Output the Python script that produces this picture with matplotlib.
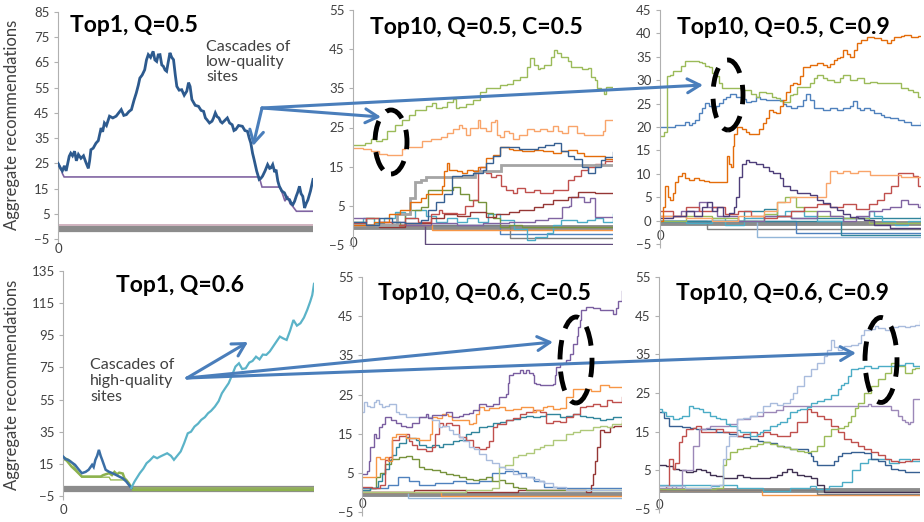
import matplotlib
matplotlib.use("Agg")
import matplotlib.pyplot as plt
from matplotlib.patches import Ellipse, FancyArrowPatch

W, H = 924, 522
plt.rcParams["font.family"] = ["Lato", "DejaVu Sans"]

# ---------------- data: (time %, aggregate recommendations) ----------------
# Top1, Q=0.5
P1_BLUE = [(0, 25), (1, 23), (1.7, 22), (2.5, 24), (3.2, 22), (4.4, 27.8), (5.0, 29), (5.7, 28), (6.5, 29.8),
           (7.2, 26), (8, 28.5), (9, 27), (10, 28), (10.9, 25.5), (11.9, 23), (12.4, 26), (12.9, 30.4),
           (13.8, 31), (14.9, 33), (15.8, 34), (16.9, 39), (17.5, 37.5), (18.2, 41), (19, 40), (20.2, 43.7),
           (21.5, 43), (22.8, 43.7), (23.8, 45), (24.8, 46.3), (25.8, 44), (26.8, 44.3), (27.8, 45.5),
           (28.8, 46.3), (29.8, 50), (30.7, 52.9), (31.5, 56), (32.1, 58.8), (33, 60), (34, 62.1), (34.7, 66),
           (35.4, 68.1), (36.3, 67), (37.3, 69.4), (38, 66), (38.7, 65.4), (39.3, 68), (40, 68.1), (40.7, 64),
           (41.3, 63.5), (42, 62), (42.6, 61.5), (43.2, 65), (43.9, 68.8), (44.6, 67), (45.3, 66.1), (46, 60),
           (46.6, 55.5), (47.5, 54), (48.5, 54.2), (49.5, 52), (50.5, 53.6), (51.2, 57), (51.8, 55.5),
           (52.5, 50.3), (53.8, 48), (55.1, 47.6), (56.1, 46), (57.1, 45.6), (57.8, 43), (58.4, 42.3),
           (59.4, 41), (60.4, 41.7), (61, 43), (61.7, 45), (62.4, 43.5), (63.1, 43), (63.8, 41.5), (64.4, 41),
           (65.4, 42), (66.4, 43), (67.3, 41), (68.3, 40.3), (69, 38), (69.7, 38.4), (70.8, 40), (72.3, 39.7),
           (73.3, 38), (74.3, 37.7), (75, 35), (75.6, 33.1), (76.3, 29), (76.9, 26.5), (77.9, 22), (78.9, 18.6),
           (79.5, 19), (80.2, 19.9), (81.2, 22), (82.2, 24.5), (83, 23), (83.5, 23.2), (84.2, 24.5), (85, 21.5),
           (85.5, 22.5), (86.2, 18), (86.8, 15.9), (87.8, 14), (88.8, 13.3), (89.8, 11), (90.8, 10.6),
           (91.5, 9), (92.1, 8.6), (92.8, 10), (93.4, 11.9), (94, 13.5), (94.7, 15.9), (95.3, 13), (96, 11.9),
           (96.7, 7.3), (97.3, 9), (98, 10.5), (99, 14), (100, 18.6)]
P1_PURPLE = [(0, 25.2), (1.2, 23), (1.7, 21), (2.4, 19.6), (78.9, 19.6), (80, 15.6), (87, 15.6), (88, 13),
             (89, 10), (90, 12), (91, 9), (92, 8), (93.5, 6), (100, 6)]
P1_PINK = [(0, 0.5), (100, 0.5)]
P1_GREY = [(0, -1), (100, -1)]

# Top10, Q=0.5, C=0.5
P2_GREEN = [(0, 20.5), (4.5, 21), (7, 22), (9, 21.5), (11, 22), (13, 24), (16.2, 25.6), (18.8, 27), (21.4, 28.2),
            (24, 29.5), (26.6, 29.5), (28, 30.5), (30.5, 31.2), (32, 30), (34.4, 30.3), (36, 31.5), (38.3, 32.4),
            (39.5, 30), (40.9, 30.3), (43.5, 31), (46.1, 32), (48.7, 34), (51.3, 35), (53.9, 35.2), (56.5, 35.9),
            (59.1, 36), (61.7, 37.1), (64.3, 38), (66.9, 40.5), (68, 42.7), (69.5, 41), (71, 40), (72.1, 40.1),
            (73.5, 41), (74.7, 41), (76, 43), (77.3, 44.8), (78.5, 44), (79.9, 43.1), (82.5, 42), (84, 40.5),
            (86.4, 40.5), (88, 40), (90.3, 40.1), (91.5, 38), (92.9, 37.1), (94, 35), (95.5, 34.6), (96.5, 33.5),
            (97.4, 35.4), (100, 35.4)]
P2_ORANGE = [(0, 19.7), (4, 19.5), (7, 19), (10, 18.2), (13, 18), (16, 18), (18.8, 19.5), (20, 20.1), (26.6, 21.5),
             (30, 22), (34, 22.5), (36, 23.5), (38.3, 24.5), (40.9, 25.6), (42, 25), (43.5, 23), (45, 25),
             (48, 26.9), (49, 25), (51.3, 24), (53, 26.5), (54.5, 27), (55.5, 23), (56.5, 22.7), (58, 24),
             (60, 23.5), (61.7, 22), (64, 23), (66.9, 24.5), (69.5, 24), (72.1, 24.5), (74.7, 24), (77, 25.5),
             (79, 24), (80.5, 23.5), (82.5, 25.5), (84.5, 25.5), (86, 23.5), (89, 23), (93, 23), (96, 24),
             (97, 27), (100, 27)]
P2_BLUE = [(0, 1), (5, 0), (10, 2), (15, 1), (20, 0.5), (26, 1.5), (29, 4), (32, 6), (35, 8), (38, 12.5), (42, 13),
           (46, 13.5), (50, 14.1), (51.3, 16), (53.9, 17.6), (56.5, 20.1), (60, 20), (64, 19.5), (68, 19.5),
           (71, 20), (74, 20.5), (77.3, 21), (80, 19), (82.5, 17.6), (85, 17), (88, 15), (90.3, 13.3), (92.9, 15),
           (95.5, 16.7), (97, 17.5), (100, 18.8)]
P2_DKORANGE = [(0, 0), (8, 1), (14, 3), (18, 4), (22, 6), (26, 7), (28, 8), (32, 8), (34.4, 10), (35, 14),
               (36, 15.9), (37, 14.1), (40, 14), (42, 13.3), (44, 14.1), (46, 14), (48, 15), (51.3, 17.1), (54, 18),
               (56.5, 20.1), (60, 19.5), (61.7, 19.3), (65, 19), (69.5, 19.3), (73, 19), (77, 18.4), (80, 19),
               (82.5, 19.3), (86, 18.5), (89, 17.6), (93, 17.6), (97, 17), (100, 16.7)]
P2_GREYSTEP = [(0, 0), (15, 0), (17, 3), (22, 7), (24, 11), (26, 11.6), (28, 12.3), (45, 12.3), (47, 14), (55, 14),
               (57, 15.5), (100, 15.5)]
P2_RED = [(0, 0.5), (5, 2), (10, 1), (15, 0), (20, 2), (25, 1), (30, 3), (33, 4), (34.4, 3.1), (40, 3), (43, 5),
          (46, 6.5), (48, 14), (49, 15), (51.3, 13.3), (53, 12.4), (55, 13), (57, 10), (59, 9), (61.7, 8.2),
          (63, 9.5), (66, 8.5), (69.5, 9), (72, 8.2), (74.7, 8.2), (77, 9), (79.9, 9), (82.5, 11.6), (85, 12.5),
          (87.5, 14.1), (90.3, 14.9), (93, 15.8), (97, 16.5), (100, 16.7)]
P2_DKRED = [(0, 0), (10, -0.5), (20, 0.5), (30, 2), (35, 3), (40, 2.5), (45, 3.5), (51.3, 2.2), (55, 3), (60, 3.5),
            (64, 4), (69.5, 4.8), (73, 5.5), (77, 6.5), (79.9, 6.5), (82.5, 7.3), (85, 7.3), (86.5, 8.6), (90, 8.6),
            (93, 8.2), (100, 8.2)]
P2_PURPLE = [(0, 2), (5, 0), (10, 1), (20, 0), (30, 0.5), (40, 0), (50, 0.5), (60, 1), (70, 1.5), (75, 2),
             (80.5, 4.8), (83, 5), (84, 7.3), (87, 7.3), (89, 6), (91, 7), (93, 2.2), (100, 2.2)]
P2_GREENLOW = [(0, 1), (5, 2), (10, 0), (15, 1), (18, 0), (20, 3), (22, 4), (26, 4.8), (29, 9), (33, 9),
               (38.3, 9.9), (41, 8), (44.5, 6.5), (48, 6), (51.3, 3.1), (54, 2), (56.5, -0.3), (60, 0), (65, -0.5),
               (100, -0.5)]
P2_AQUA = [(0, 1), (4, 2), (8, 0.5), (12, 2), (16, 3.5), (20, 2), (24, 4), (28, 2.5), (32, 1), (36, 2), (40, 1),
           (44, 2), (48, 1), (52, 3), (56.5, 1.5), (59.1, 1.4), (62, -1), (66.9, -3.7), (70, -3), (74.7, -2),
           (77, 0), (79.9, 1.4), (83, 1.5), (86, 1), (90, 1.5), (93, 2), (96, 1), (100, 3)]
P2_BASE_A = [(0, 0), (27, 0), (27.5, -4.7), (100, -4.7)]
P2_BASE_B = [(0, 0), (56, 0), (56.5, -2.2), (100, -2.2)]
P2_BASE_C = [(0, 0), (60, 0), (60.5, -3.2), (100, -3.2)]
P2_BASE_D = [(0, 0), (30, 0), (30.5, -1.2), (100, -1.2)]
P2_GREY = [(0, -0.3), (100, -0.3)]

# Top10, Q=0.5, C=0.9
P3_GREEN = [(0, 18), (1.5, 19), (2.5, 31), (3.9, 31.1), (5, 32), (6.5, 32), (8, 33), (9.7, 34), (12.3, 34),
            (14.8, 33.8), (16.1, 33.6), (17.4, 33), (18.7, 32.9), (20, 31.5), (21.3, 30.8), (22.6, 29.5),
            (23.9, 28.3), (29, 28.3), (31, 28), (32.9, 27.9), (35, 27), (36.8, 26.5), (38, 27.5), (40.6, 27.2),
            (43, 26.5), (44.5, 26.1), (46, 25.5), (47.1, 25.4), (49.7, 26.8), (51, 27), (52.3, 28.6), (54.8, 28.6),
            (57.4, 29.3), (59, 30.5), (60, 31.1), (62.6, 30.5), (63.9, 30), (66.5, 29.7), (69, 30.5), (70.3, 31.1),
            (72.9, 30), (75.5, 30.5), (78.1, 29.5), (80.6, 29.7), (83.2, 29.3), (89.7, 29.3), (92.3, 28.3),
            (95, 27.9), (97, 27.5), (98.7, 26.5), (100, 26.5)]
P3_BLUE = [(0, 20.1), (3, 20.1), (5.8, 20.4), (8, 20.4), (9.7, 21.1), (11, 20.5), (12.3, 20.8), (13.5, 21.5),
           (14.8, 22.9), (16.1, 24), (17.4, 25.1), (18.7, 24.5), (20, 24), (21.3, 24.5), (22.6, 25.1), (24, 26),
           (25.2, 26.5), (27, 27), (29, 26.5), (31, 26), (32.9, 25.4), (35, 25.5), (36.8, 26.5), (38.5, 26),
           (40.6, 25.8), (45.8, 25.8), (47, 25), (48.4, 24.4), (50, 24), (52.3, 24.4), (54.8, 25.8), (56, 27),
           (57.4, 25.8), (59, 24), (60, 24), (62.6, 23.6), (65, 24), (67.7, 23.6), (70, 24), (72.9, 24.4),
           (74, 25.5), (75.5, 24), (76.8, 23.6), (78.1, 24), (80.6, 23.6), (81.9, 22.9), (84.5, 22.5),
           (85.8, 22.2), (88, 22), (91, 21.5), (93.5, 21), (96.1, 20.4), (98.7, 20.4), (100, 21.1)]
P3_ORANGE = [(0, 0), (1, 3), (1.9, 7.3), (3.2, 5), (3.9, 4.4), (5, 6), (5.8, 8.3), (7, 9.5), (8.4, 10.1), (9.5, 9),
             (11, 8.7), (13, 9), (14.8, 8.7), (17, 8.5), (18.7, 8.3), (25.2, 8.3), (25.8, 13.7), (26.5, 12),
             (27.1, 11.5), (28, 16), (28.4, 18.6), (29.5, 20), (30.3, 20.1), (31.5, 19.5), (32.9, 19), (34.2, 18.5),
             (36.8, 18.6), (38, 19.5), (39.4, 20.8), (40.6, 22), (41.9, 23.6), (43.2, 23.2), (44.5, 22.9),
             (45.8, 24.5), (47.1, 25.8), (48.4, 27.5), (49.7, 29), (51, 29.5), (52.3, 29.2), (53.5, 31),
             (54.8, 32.9), (57.4, 33.2), (60, 33.6), (62.6, 33.2), (63.9, 32.9), (65.2, 33.5), (66.5, 34.3),
             (67.7, 34.8), (69, 35), (70.3, 36.5), (71.6, 35.5), (72.9, 35), (74.2, 36.5), (75.5, 37.9), (77, 38.5),
             (79.4, 39.3), (81.9, 39), (84.5, 38.6), (87.1, 37.9), (88.4, 38.5), (89.7, 39.3), (92.3, 39.5),
             (93.5, 39.7), (96.1, 39.3), (98.7, 39.5), (100, 39.5)]
P3_DKPURPLE = [(0, 0.5), (5, 1), (10, 2), (13, 1), (16, 3), (18, 4), (20, 2), (22, 3), (24, 1), (26.5, 1.6),
               (28.4, 3), (29, 5.1), (30.3, 9.4), (31.6, 12.2), (32.9, 12.9), (34.2, 12.5), (36.8, 12), (39.4, 11.5),
               (41.9, 10.5), (43.2, 10.1), (45.8, 9), (47.1, 7.3), (49.7, 6.5), (52.3, 5.8), (54.8, 5.8),
               (57.4, 5.5), (60, 4.5), (62.6, 3.7), (65, 3), (67.7, 2.3), (70, 1.5), (72.9, 0.8), (76, 0.5),
               (78.1, 0.1), (82, -1), (88, -1.5), (100, -1.5)]
P3_LTORANGE = [(0, 1), (10, 0.5), (20, 0), (30, 1), (40, 2), (45, 4), (49.7, 5.1), (55, 5), (62.6, 5.1),
               (63.5, 8), (65.2, 10.5), (67.7, 10.1), (70, 10.5), (72.9, 10.1), (76, 10.5), (80.6, 9.7),
               (88.4, 9.7), (92.3, 9.4), (100, 9.4)]
P3_RED = [(0, 2), (5, 1), (10, 3), (15, 2), (20, 3), (25, 1.5), (30, 2), (35, 1), (40, 0.5), (45, 1), (50, 2),
          (55, 3), (60, 3.5), (65, 3), (70, 3.5), (75, 2.5), (80, 3.5), (83.2, 4.4), (85.8, 5.8), (88.4, 7.3),
          (91, 10.1), (94, 10.1), (97, 9.5), (98.7, 7.5), (100, 7.3)]
P3_PURPLE = [(0, 1), (8, 2), (15, 4), (18, 3), (22, 1), (30, 0), (40, 1), (50, 0.5), (60, 2), (65, 1), (70, 0),
             (75, 1), (80, 2), (85, 2.5), (88, 3), (91, 3), (92.5, 4.4), (95, 3.5), (98.7, 3), (100, 3.5)]
P3_GREENLOW = [(0, 0), (10, 1), (20, 0.5), (30, 0), (40, 1.5), (45, 4), (48, 5), (52, 3), (55, 2), (60, 1),
               (70, 0.5), (80, -0.5), (100, -0.5)]
P3_AQUA = [(0, 0), (10, -0.5), (20, 0.5), (25, -1), (32, 0.5), (40, 1), (48, 2), (55, 1), (60, 0), (70, 0.5),
           (80, 2), (82, 1), (85, 0), (90, -1), (95, 0), (100, 1)]
P3_TEAL = [(0, 0), (30, 0), (32, 2), (36, 2), (40, 2.5), (45, 1), (50, 0.5), (100, 0.5)]
P3_BASE_A = [(0, 0), (17.4, 0), (18, -1.9), (100, -1.9)]
P3_BASE_B = [(0, 0), (36.8, 0), (37.3, -3.4), (100, -3.4)]
P3_BASE_C = [(0, 0), (51.6, 0), (52, -2.7), (100, -2.7)]
P3_BASE_D = [(0, 0), (69, 0), (69.5, -3), (100, -3)]
P3_GREY = [(0, -0.5), (100, -0.5)]

# Top1, Q=0.6
P4_AQUA = [(27.2, 0), (28.5, 4), (30.6, 9.2), (32, 12), (33.3, 15.4), (34.5, 17), (36.1, 19.6), (37.5, 18.5),
           (38.8, 19.6), (40, 20.5), (41.5, 21.6), (43, 20), (44.2, 17.5), (45.5, 20), (46.9, 22.7), (48.3, 28),
           (49.7, 34), (51, 35), (52.4, 38.2), (53.8, 40), (55.1, 42.4), (56.5, 44), (57.8, 46.5), (59, 48),
           (60.5, 50.6), (62, 54), (63.3, 58.9), (64.6, 62), (66, 65.2), (67.3, 70), (68.7, 75.5), (70.1, 77.6),
           (71.4, 74), (72.8, 74.5), (74.2, 78), (75.5, 79), (76.9, 81.7), (78.3, 80), (79.6, 83), (81, 82.8),
           (82.4, 85), (83.7, 88), (85, 91), (86.4, 94.2), (87.8, 93), (89.1, 92.1), (90.5, 98), (91.8, 104.5),
           (93.2, 101), (94.6, 102.5), (96, 106), (97.3, 110.8), (98.5, 116), (99.3, 120), (100, 127)]
P4_BLUE = [(0, 19.6), (1, 18), (2, 17.5), (3.4, 16), (4.8, 14.4), (6, 12), (7.5, 9.2), (9, 10), (10.2, 11.3),
           (11.6, 14.4), (12.2, 13), (12.9, 17.5), (13.6, 20), (14.3, 23.7), (15, 20), (15.6, 17.5), (17, 11.3),
           (18.4, 10), (19.7, 9.2), (22.4, 7.1), (23.8, 6), (25.2, 4), (27.2, 0)]
P4_GREEN = [(0, 18.5), (1.5, 17), (3.4, 13.3), (5, 11), (7.5, 7.1), (15, 7.1), (16, 8), (18.4, 9.2), (19.5, 8),
            (20.5, 10), (21.5, 8.5), (22.4, 9.5), (23.8, 9), (24.5, 6), (25.2, 5), (26.2, 3), (27.9, -1.2),
            (100, -1.2)]
P4_MIN = [(0, 19.6), (3, 17), (5, 12), (7.5, 6.7), (18.4, 6.7), (19, 5), (25.2, 5), (26.5, 2), (27.2, 0),
          (100, 0)]
P4_GREY = [(0, -0.7), (100, -0.7)]

# Top10, Q=0.6, C=0.5
P5_PURPLE = [(0, 4.8), (1.9, 5.5), (2.6, 8), (3.2, 11.6), (4.5, 15), (5.2, 14), (6.4, 16.7), (7.7, 17.5),
             (9, 19.3), (11, 18.5), (12.9, 17.6), (15, 17), (16.8, 16.7), (19.3, 17.6), (21.9, 19.3), (24.5, 20.1),
             (25.5, 19), (27.1, 19.7), (30.9, 19.7), (32.2, 20.5), (34.8, 19.3), (37.4, 19.5), (38.7, 20),
             (41.2, 20.3), (42.5, 21), (45.1, 22.7), (47.7, 22), (50.3, 22.7), (52.8, 24.4), (55.4, 25.2), (56, 28),
             (56.7, 29.9), (58, 30.5), (60.6, 31.2), (62, 30.5), (63.1, 31.2), (64.4, 30.5), (65.7, 30),
             (66.3, 28), (67, 27.8), (68.3, 27.5), (70.9, 27.4), (73.5, 27.8), (74.1, 30), (74.7, 32), (76, 32.9),
             (77.3, 33), (78.6, 33.7), (79.9, 35.4), (81.2, 38), (82.5, 40), (83.1, 42.2), (83.8, 44),
             (84.4, 46.5), (86.3, 47.3), (88.9, 47), (91.5, 46.5), (95.4, 46.5), (96.6, 45.6), (97.5, 47),
             (98.5, 49), (100, 51.5)]
P5_LAVENDER = [(0, 20.5), (0.6, 23), (1.9, 22), (3.2, 21.8), (4.5, 23), (5.2, 23.5), (6.4, 22.5), (7.7, 21.8),
               (9, 22), (10.3, 22.5), (12.9, 20.5), (14.2, 20), (16.8, 19.3), (24.5, 19.3), (27, 18.5),
               (29.6, 16.7), (30.9, 17), (33.5, 15.9), (35, 15), (37.4, 14.1), (39, 13), (41.2, 11.6), (43, 11),
               (45.1, 9.9), (47.7, 8.2), (50, 7.5), (52.8, 6.5), (55, 6), (58, 4.8), (61, 4), (65.7, 3.5), (68, 3),
               (70, 2.5), (73.5, 1.4), (78.6, 0.5), (100, 0.5)]
P5_ORANGE = [(0, 3.9), (2, 4), (5.2, 9), (7, 8.5), (9, 9), (10, 8), (11.6, 14.1), (13, 15), (15.5, 15), (17, 14),
             (19.3, 14), (21.9, 13.5), (24.5, 13.3), (26, 15), (27.1, 19.3), (29, 19), (30.9, 20.1), (33, 19.5),
             (34.8, 18.4), (37.4, 18.6), (39.9, 18.4), (41, 17.5), (42.5, 17.6), (44, 20), (45.1, 21.8), (47, 21),
             (49, 21.5), (52.8, 21.8), (55, 21), (58, 21.3), (61, 21.8), (63.1, 21.8), (65.7, 20.5), (67, 21),
             (69.6, 21.8), (71, 22), (73.5, 21.3), (76, 21.5), (78.6, 24.4), (81.2, 26.5), (86.3, 26.5), (88, 26),
             (91.5, 27.3), (95, 27), (100, 26.8)]
P5_RED = [(0, 1.4), (4, 1), (7, 2), (9, 8.2), (10.3, 9), (11.6, 13.3), (14.2, 14.5), (16.8, 15), (18, 13),
          (19.3, 12), (21, 11), (24.5, 10.7), (27.1, 11.6), (28, 15), (29.6, 17.6), (31, 17), (32.2, 17.6),
          (34.8, 17.2), (37.4, 14.1), (39.9, 13.3), (42.5, 11.6), (45, 11.2), (47.7, 11.6), (49, 13), (50.3, 16.7),
          (52, 17.5), (55.4, 18.4), (58, 19), (60.6, 20.1), (63, 20.5), (65.7, 21), (68.3, 20.5), (70.9, 17.6),
          (73.5, 18.2), (76, 18), (78.6, 19.3), (81, 20), (83.8, 21.8), (86, 22), (88.9, 22.7), (91.5, 22),
          (94.1, 23.5), (96, 23), (100, 24.4)]
P5_TEAL = [(0, 0.5), (3, 1), (5.2, 1.4), (6, 3), (7.7, 4.8), (9, 6), (10.3, 8.2), (11.6, 9.5), (12.9, 11.6),
           (14.2, 12.5), (16.8, 14.1), (18, 13.8), (20.6, 13.3), (22, 12), (24.5, 11.6), (27, 12), (29.6, 11.6),
           (31, 12.4), (33.5, 12.4), (35, 13), (37.4, 13.3), (39.9, 15), (42, 15.5), (45.1, 16.7), (48, 17),
           (50.3, 17.6), (53, 18), (55.4, 18.4), (58, 18.8), (60.6, 19.3), (63, 19.5), (65.7, 19.3), (68.3, 19.5),
           (70.9, 20.1), (73.5, 20), (76, 19.3), (78.6, 19.5), (81.2, 20.1), (84, 19.5), (86.3, 19.3), (88.9, 19),
           (91.5, 18.4), (94, 18.8), (96.6, 19.3), (100, 19.3)]
P5_GREEN = [(0, 0.5), (3, 1), (5.2, 3.9), (7, 5), (9, 7.3), (11, 8.5), (14.2, 9), (17, 9.2), (19.3, 8.5),
            (21.9, 6.5), (24, 6), (27.1, 5.6), (30, 5.2), (32.2, 4.8), (35, 4.5), (37.4, 3.9), (40, 3.5),
            (42.5, 3.1), (45, 3.5), (47.7, 3.9), (50, 3), (52.8, 3.1), (55, 2.5), (58, 1.4), (60, 1), (63.1, 0.5),
            (100, 0.5)]
P5_LTGREEN = [(0, 0), (40, 0.5), (50, 1), (52.8, 6.5), (55, 7), (58, 9), (60, 9.5), (63.1, 10), (66, 11),
              (68.3, 11.6), (70, 12), (73.5, 13.3), (76, 13.5), (78.6, 15), (81.2, 15.5), (83.8, 15.9), (86, 16),
              (88.9, 16.7), (91.5, 17), (94.1, 16.7), (96, 17.5), (100, 18.4)]
P5_DKRED = [(0, 0), (20, 0.5), (40, 0), (60, 0.5), (86.3, 0), (88, 2), (88.9, 4.8), (89.5, 8), (90.2, 11.6),
            (91.5, 15.9), (93, 15.5), (95.4, 16.7), (97, 17), (100, 17.6)]
P5_BLUE = [(0, 1), (10, 2), (14, 4), (18, 3), (22, 2), (28, 2.5), (35, 3), (40, 2.5), (45, 3), (50, 5), (55, 5.5),
           (60, 5), (63, 4), (66, 3), (70, 1.5), (75, 1), (100, 1)]
P5_BASE_A = [(0, 0), (17, 0), (17.5, -1.3), (100, -1.3)]
P5_BASE_B = [(0, 0), (30, 0), (30.5, -1), (100, -1)]
P5_GREY = [(0, -0.3), (100, -0.3)]

# Top10, Q=0.6, C=0.9
P6_LAVENDER = [(0, 1), (10, 0.5), (20, 1.2), (23.2, 1.2), (24.5, 8), (25.8, 11.4), (27, 14), (29.7, 18.2),
               (32, 18.5), (34.8, 19.1), (37.4, 20), (40, 21.7), (42.6, 22.5), (45.2, 22), (47.7, 22.5),
               (50.3, 23.4), (51.5, 25), (52.9, 26.8), (55.5, 29.4), (58.1, 31.1), (60.6, 32.8), (63.2, 34.5),
               (64.5, 36), (66, 38.8), (67.1, 37), (68.4, 36.2), (70, 36.5), (71, 37.1), (73.5, 37.5), (76.1, 37.9),
               (77.4, 40), (78.7, 41.3), (81.3, 41.5), (82.6, 42.2), (84, 41.8), (86.5, 41.3), (89, 42),
               (91.6, 42.2), (94.2, 42), (96.1, 42.2), (98.1, 42.6), (100, 43.5)]
P6_AQUA = [(0, 20.8), (1.3, 20), (2.6, 19.1), (5.2, 18.2), (7.7, 18.5), (9, 19.1), (11.6, 21.7), (13, 21),
           (15.5, 20.8), (17, 20), (19.4, 19.1), (21.9, 18.5), (23.2, 18.2), (25.8, 17), (27.1, 16.5),
           (29.7, 15.5), (31, 14.8), (34.8, 14), (37.4, 14.5), (38.7, 14.8), (40, 15.5), (42.6, 16.5), (45.2, 17),
           (46.5, 17.4), (49, 18.5), (50.3, 20), (52.9, 20.5), (54.2, 20.8), (56.8, 21.5), (58.1, 22.5), (60.6, 23),
           (63.2, 23.4), (65.8, 24.5), (68.4, 26.1), (69.7, 27), (71, 27.7), (72.3, 29.5), (73.5, 31.1),
           (76.1, 31.5), (78.7, 31.9), (81.3, 31.5), (83.9, 31.9), (89, 31.9), (91.6, 32.3), (94.2, 32.8),
           (97.4, 32), (100, 31.9)]
P6_GREEN = [(0, 0.3), (10, 0.5), (20, 0.3), (21.9, 0.5), (24.5, 6.3), (25.8, 8), (27.1, 9.7), (29.7, 10.6),
            (32, 10.8), (34.8, 11.4), (37.4, 11.8), (40, 12.3), (42.6, 11.8), (45.2, 11.4), (47.7, 11),
            (50.3, 10.6), (52.9, 10), (55.5, 9.7), (58.1, 10), (60.6, 11.4), (63.2, 14), (65.8, 15.7), (68.4, 16),
            (71, 16.5), (72.3, 17.5), (73.5, 19.1), (75, 21), (76.1, 22.5), (78.7, 25.1), (81.3, 26.8),
            (83.9, 28.5), (86.5, 30.2), (89, 32.8), (91.6, 31.9), (94.2, 30.2), (96.8, 31.1), (98, 31.5),
            (100, 31.9)]
P6_MAUVE = [(0, 0.5), (5, 1), (6.5, 0.5), (9, 5), (12.9, 11.4), (15.5, 15.7), (18.1, 16), (19.4, 16.5),
            (24.5, 16.5), (27, 17), (29.7, 18.2), (34.8, 19.1), (40, 20), (45, 20.5), (47.7, 21.7), (78.7, 21.7),
            (80, 22.2), (81.3, 21.7), (87.7, 21.7), (89, 20.5), (91.6, 19.1), (93, 18), (94.2, 17.4), (95.5, 17),
            (96.1, 17.4), (97.4, 23.4), (100, 23.4)]
P6_RED = [(0, 0.3), (2.6, 1), (3.9, 8), (5.2, 5.4), (6, 7), (7.7, 12.3), (9, 14), (10.3, 15.7), (12.9, 16),
          (14.2, 16.5), (16, 15), (18.1, 14.8), (20, 15), (21.9, 15.7), (24.5, 15), (25.8, 14.8), (29.7, 14),
          (32, 14.5), (34.8, 14.8), (37.4, 14), (40, 14.8), (42.6, 14.5), (45.2, 14), (47.7, 14), (50.3, 15),
          (52.9, 17.4), (56.8, 20.8), (58.1, 20), (60.6, 19.1), (63.2, 18.2), (65.8, 16.5), (68.4, 15), (71, 13.1),
          (73.5, 12.3), (76.1, 11.4), (78.7, 10.5), (81.3, 9.7), (83.9, 9), (86.5, 8), (89, 7.5), (91.6, 7.1),
          (94.2, 7.5), (96.8, 8), (100, 8)]
P6_BLUE = [(0, 20), (2, 18.5), (3.9, 16.5), (6.5, 16.5), (9, 16.2), (12, 16), (14.2, 15.7), (19.4, 15.7),
           (21.9, 15), (24.5, 14.8), (27, 14.5), (29.7, 14), (32, 13.5), (34.8, 13.1), (38, 12.5), (40, 12.3),
           (42.6, 12), (45.2, 11.4), (48, 11), (50.3, 10.6), (53, 10.5), (55.5, 10.6), (57, 9.5), (58.1, 8.8),
           (59, 7.5), (60.6, 6.3), (65.8, 6.3), (67, 7.5), (68.4, 8.8), (70, 9.5), (73.5, 9.7), (76.1, 9.7),
           (78.7, 9.5), (81.3, 8), (84, 7.5), (86.5, 6.5), (89, 5.4), (91.6, 5), (94.2, 4.5), (100, 4.5)]
P6_DKPURPLE = [(0, 6.3), (2.6, 6), (5.2, 5.4), (7.7, 5), (10.3, 4.5), (12.9, 4.8), (14.2, 5.4), (16, 5),
               (18.1, 4.5), (19.4, 3.7), (22, 3.5), (24.5, 2.9), (27, 3), (29.7, 3.7), (32, 3.2), (34.8, 2.9),
               (37.4, 3), (40, 2.9), (42.6, 3.2), (45.2, 3.7), (47, 4.5), (49, 5.4), (51, 4.5), (52.9, 3.7),
               (55.5, 3.5), (58.1, 2.9), (60.6, 1.2), (63.2, -0.6), (100, -0.6)]
P6_LTAQUA = [(0, 1.2), (10, 1.2), (20, 1), (23, 1.2), (30, 0.5), (40, -0.3), (50, 0.5), (58, 1), (60, 0.3),
             (65, 1), (70, 2), (74, 5), (77, 7), (80, 8), (84, 8), (88, 7), (92, 8), (96, 7.5), (100, 8)]
P6_BASE_A = [(0, 0), (39, 0), (39.5, -1.4), (100, -1.4)]
P6_BASE_B = [(0, 0), (60, 0), (60.5, -1.0), (100, -1.0)]
P6_GREY = [(0, -0.1), (100, -0.1)]

# ---------------- layout ----------------
TEXT = "#404040"
ARROW = "#4A7EBB"


def box(left, top, right, bottom):
    return [left / W, 1 - bottom / H, (right - left) / W, (bottom - top) / H]


def fx(x):
    return x / W


def fy(y):
    return 1 - y / H


def make_axes(fig, rect, ymin, ymax, step, title, tx, ty, xpad):
    ax = fig.add_axes(box(*rect))
    ax.set_xlim(0, 100)
    ax.set_ylim(ymin, ymax)
    ax.set_yticks(range(ymin, ymax + 1, step))
    ax.set_xticks([0])
    ax.set_xticklabels(["0"])
    for s in ["top", "right", "bottom"]:
        ax.spines[s].set_visible(False)
    ax.spines["left"].set_color("#B0B0B0")
    ax.spines["left"].set_linewidth(0.8)
    ax.tick_params(axis="y", colors="#B0B0B0", labelcolor=TEXT, labelsize=9.5, length=3, width=0.8, pad=3)
    ax.tick_params(axis="x", colors="#B0B0B0", labelcolor=TEXT, labelsize=9.5, length=3, width=0.8, pad=xpad)
    ax.patch.set_alpha(0)
    fig.text(fx(tx), fy(ty), title, fontsize=16.5, fontweight="bold", color="black",
             ha="center", va="center")
    return ax


def draw(ax, pts, color, lw=1.0, steps=True, z=2):
    t = [p[0] for p in pts]
    v = [p[1] for p in pts]
    ax.plot(t, v, color=color, lw=lw, drawstyle="steps-post" if steps else "default",
            solid_joinstyle="miter", zorder=z)


fig = plt.figure(figsize=(W / 100, H / 100), dpi=100)

# panel 1
ax1 = make_axes(fig, (58, 12, 313, 239), -5, 85, 10, "Top1, Q=0.5", 134, 25, 0)
draw(ax1, P1_GREY, "#8C8C8C", 4.5, False)
draw(ax1, P1_PINK, "#C9A7B5", 1.2, False)
draw(ax1, P1_PURPLE, "#8064A2", 1.2, False)
draw(ax1, P1_BLUE, "#2D5A8E", 2.0, False, 3)

# panel 2
ax2 = make_axes(fig, (353, 10, 613, 245), -5, 55, 10, "Top10, Q=0.5, C=0.5", 476, 28, -9)
draw(ax2, P2_GREY, "#8C8C8C", 3.5)
draw(ax2, P2_BASE_A, "#604A7B")
draw(ax2, P2_BASE_B, "#4F81BD")
draw(ax2, P2_BASE_C, "#7F7F7F")
draw(ax2, P2_BASE_D, "#F79646")
draw(ax2, P2_AQUA, "#4BACC6")
draw(ax2, P2_GREENLOW, "#77933C")
draw(ax2, P2_PURPLE, "#8064A2")
draw(ax2, P2_DKRED, "#953735")
draw(ax2, P2_RED, "#C0504D")
draw(ax2, P2_GREYSTEP, "#A5A5A5", 2.0)
draw(ax2, P2_DKORANGE, "#E46C0A")
draw(ax2, P2_BLUE, "#376092")
draw(ax2, P2_ORANGE, "#F9A46A")
draw(ax2, P2_GREEN, "#9BBB59")

# panel 3
ax3 = make_axes(fig, (660, 10, 921, 244), -5, 45, 5, "Top10, Q=0.5, C=0.9", 783, 28, -13)
draw(ax3, P3_GREY, "#8C8C8C", 3.5)
draw(ax3, P3_BASE_A, "#7F7F7F")
draw(ax3, P3_BASE_B, "#93B6D8")
draw(ax3, P3_BASE_C, "#4F81BD")
draw(ax3, P3_BASE_D, "#31859C")
draw(ax3, P3_TEAL, "#31859C")
draw(ax3, P3_AQUA, "#4BACC6")
draw(ax3, P3_GREENLOW, "#9BBB59")
draw(ax3, P3_PURPLE, "#8064A2")
draw(ax3, P3_RED, "#C0504D")
draw(ax3, P3_LTORANGE, "#F9A46A")
draw(ax3, P3_DKPURPLE, "#4E3E7A")
draw(ax3, P3_BLUE, "#4F81BD")
draw(ax3, P3_GREEN, "#9BBB59")
draw(ax3, P3_ORANGE, "#E46C0A")

# panel 4
ax4 = make_axes(fig, (63, 271, 314, 496), -5, 135, 20, "Top1, Q=0.6", 180, 285, 3)
draw(ax4, P4_GREY, "#8C8C8C", 4.5, False)
draw(ax4, P4_MIN, "#9BBB59", 1.0, False)
draw(ax4, P4_GREEN, "#8DB24E", 1.8, False)
draw(ax4, P4_BLUE, "#3A6EA5", 1.8, False, 3)
draw(ax4, P4_AQUA, "#5BB3C8", 1.6, False, 3)

# panel 5
ax5 = make_axes(fig, (362, 277, 622, 512), -5, 55, 10, "Top10, Q=0.6, C=0.5", 484, 293, -13)
draw(ax5, P5_GREY, "#8C8C8C", 3.5)
draw(ax5, P5_BASE_A, "#93B6D8")
draw(ax5, P5_BASE_B, "#F79646")
draw(ax5, P5_BLUE, "#4F81BD")
draw(ax5, P5_DKRED, "#953735")
draw(ax5, P5_GREEN, "#77933C")
draw(ax5, P5_LTGREEN, "#AFC97A")
draw(ax5, P5_TEAL, "#31859C")
draw(ax5, P5_RED, "#C0504D")
draw(ax5, P5_ORANGE, "#F79646")
draw(ax5, P5_LAVENDER, "#A9BCDD")
draw(ax5, P5_PURPLE, "#7A5EA0")

# panel 6
ax6 = make_axes(fig, (659, 277, 920, 509), -5, 55, 10, "Top10, Q=0.6, C=0.9", 782, 293, -10)
draw(ax6, P6_GREY, "#8C8C8C", 3.5)
draw(ax6, P6_BASE_A, "#F79646")
draw(ax6, P6_BASE_B, "#7F7F7F")
draw(ax6, P6_LTAQUA, "#4BACC6")
draw(ax6, P6_DKPURPLE, "#403152")
draw(ax6, P6_BLUE, "#376092")
draw(ax6, P6_RED, "#C0504D")
draw(ax6, P6_MAUVE, "#9C88B8")
draw(ax6, P6_GREEN, "#9BBB59")
draw(ax6, P6_AQUA, "#4BACC6")
draw(ax6, P6_LAVENDER, "#A9BCDD")

# y labels
for yc in (125, 385):
    fig.text(fx(12), fy(yc), "Aggregate recommendations", rotation=90, fontsize=12,
             color=TEXT, ha="center", va="center")

# annotations
fig.text(fx(206), fy(62), "Cascades of\nlow-quality\nsites", fontsize=11.5, color=TEXT,
         ha="left", va="center", linespacing=1.05)
fig.text(fx(90), fy(381), "Cascades of\nhigh-quality\nsites", fontsize=11.5, color=TEXT,
         ha="left", va="center", linespacing=1.2)


def arrow(x0, y0, x1, y1):
    a = FancyArrowPatch((fx(x0), fy(y0)), (fx(x1), fy(y1)), transform=fig.transFigure,
                        arrowstyle="->,head_length=0.45,head_width=0.25", mutation_scale=20,
                        color=ARROW, lw=2.2, shrinkA=0, shrinkB=0, zorder=6)
    fig.add_artist(a)


arrow(262, 108, 253, 146)
arrow(262, 108, 381, 117)
arrow(262, 108, 703, 85)
arrow(187, 378, 248, 342)
arrow(187, 378, 553, 342)
arrow(187, 378, 856, 353)

for cx, cy, ew, eh in [(391, 142, 32, 64), (728, 95, 30, 70), (576, 360, 32, 86), (881, 360, 32, 85)]:
    e = Ellipse((fx(cx), fy(cy)), ew / W, eh / H, transform=fig.transFigure, fill=False,
                ec="black", lw=3.5, ls=(0, (4, 2.5)), zorder=7)
    fig.add_artist(e)

fig.savefig("out.png", dpi=100)
